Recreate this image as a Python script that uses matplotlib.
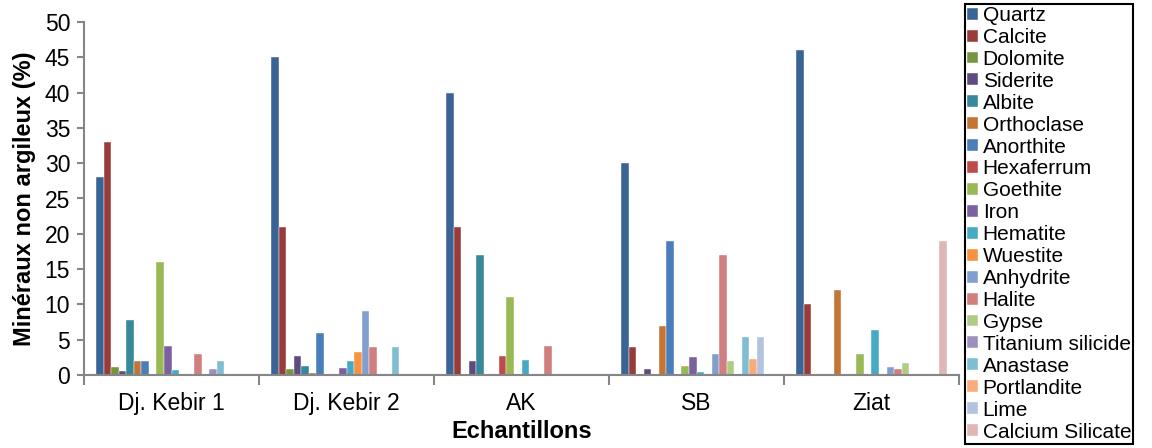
import numpy as np
import matplotlib
matplotlib.use("Agg")
import matplotlib.pyplot as plt

plt.rcParams['font.family'] = ['Liberation Sans', 'DejaVu Sans']

samples = ["Dj. Kebir 1", "Dj. Kebir 2", "AK", "SB", "Ziat"]
minerals = ["Quartz", "Calcite", "Dolomite", "Siderite", "Albite", "Orthoclase",
            "Anorthite", "Hexaferrum", "Goethite", "Iron", "Hematite", "Wuestite",
            "Anhydrite", "Halite", "Gypse", "Titanium silicide", "Anastase",
            "Portlandite", "Lime", "Calcium Silicate"]

# one row per mineral, values for each sample (%)
quartz = [28, 45, 40, 30, 46]
calcite = [33, 21, 21, 4, 10]
dolomite = [1.2, 0.8, 0.1, 0, 0]
siderite = [0.6, 2.7, 2, 0.9, 0.15]
albite = [7.8, 1.3, 17, 0, 0]
orthoclase = [2, 0.3, 0, 7, 12]
anorthite = [2, 6, 0, 19, 0]
hexaferrum = [0, 0, 2.7, 0, 0]
goethite = [16, 0.1, 11, 1.3, 3]
iron = [4.1, 1, 0, 2.6, 0]
hematite = [0.7, 2, 2.1, 0.4, 6.4]
wuestite = [0, 3.2, 0, 0, 0]
anhydrite = [0, 9, 0, 3, 1.2]
halite = [3, 4, 4.1, 17, 0.8]
gypse = [0, 0, 0, 2, 1.7]
ti_silicide = [0.8, 0, 0, 0, 0]
anastase = [2, 4, 0, 5.4, 0]
portlandite = [0, 0, 0, 2.2, 0]
lime = [0, 0, 0, 5.4, 0]
ca_silicate = [0, 0, 0, 0, 19]

values = [quartz, calcite, dolomite, siderite, albite, orthoclase, anorthite,
          hexaferrum, goethite, iron, hematite, wuestite, anhydrite, halite,
          gypse, ti_silicide, anastase, portlandite, lime, ca_silicate]

colors = ["#3A6496", "#983C3A", "#779440", "#5F4B80", "#37889A", "#C47433",
          "#4A7EBB", "#BE4B48", "#98B954", "#7D60A0", "#46AAC5", "#F69240",
          "#809FCE", "#D07F7E", "#B0CC84", "#9F8FBB", "#7EBDD2", "#F9AB7A",
          "#B3C2DF", "#DFB5B5"]

fig = plt.figure(figsize=(11.52, 4.48), dpi=100)
ax = fig.add_axes([84 / 1152, 73 / 448, 875 / 1152, 353 / 448])

x = np.arange(len(samples))
n = len(minerals)
w = 0.862 / n
for i, (name, vals) in enumerate(zip(minerals, values)):
    ax.bar(x - 0.431 + w * (i + 0.5), vals, width=w, color=colors[i],
           label=name, edgecolor='white', linewidth=0.3)

ax.set_xlim(-0.5, len(samples) - 0.5)
ax.set_ylim(0, 50)
ax.set_yticks(np.arange(0, 51, 5))

# boundary ticks between groups, labels centred on groups
ax.set_xticks(np.arange(-0.5, len(samples)), minor=False)
ax.set_xticklabels([])
ax.set_xticks(x, minor=True)
ax.set_xticklabels(samples, minor=True)
ax.tick_params(axis='x', which='major', length=7, width=1.5, color='#868686')
ax.tick_params(axis='x', which='minor', length=0, pad=12, labelsize=16.5)
ax.tick_params(axis='y', length=5, width=1.5, color='#868686', labelsize=16.5, pad=5)

for side in ['top', 'right']:
    ax.spines[side].set_visible(False)
for side in ['left', 'bottom']:
    ax.spines[side].set_color('#868686')
    ax.spines[side].set_linewidth(1.5)

ax.set_ylabel("Minéraux non argileux (%)", fontsize=17, fontweight='bold', labelpad=6)
ax.set_xlabel("Echantillons", fontsize=17, fontweight='bold', labelpad=4)

leg = fig.legend(loc='upper left', bbox_to_anchor=(965 / 1152, 1 - 4 / 448),
                 borderaxespad=0, fontsize=15, frameon=True, fancybox=False,
                 edgecolor='black', framealpha=1, handlelength=0.5,
                 handleheight=0.5, handletextpad=0.25, labelspacing=0.14,
                 borderpad=0.1)
leg.get_frame().set_linewidth(1.5)

fig.savefig("out.png", dpi=100)
